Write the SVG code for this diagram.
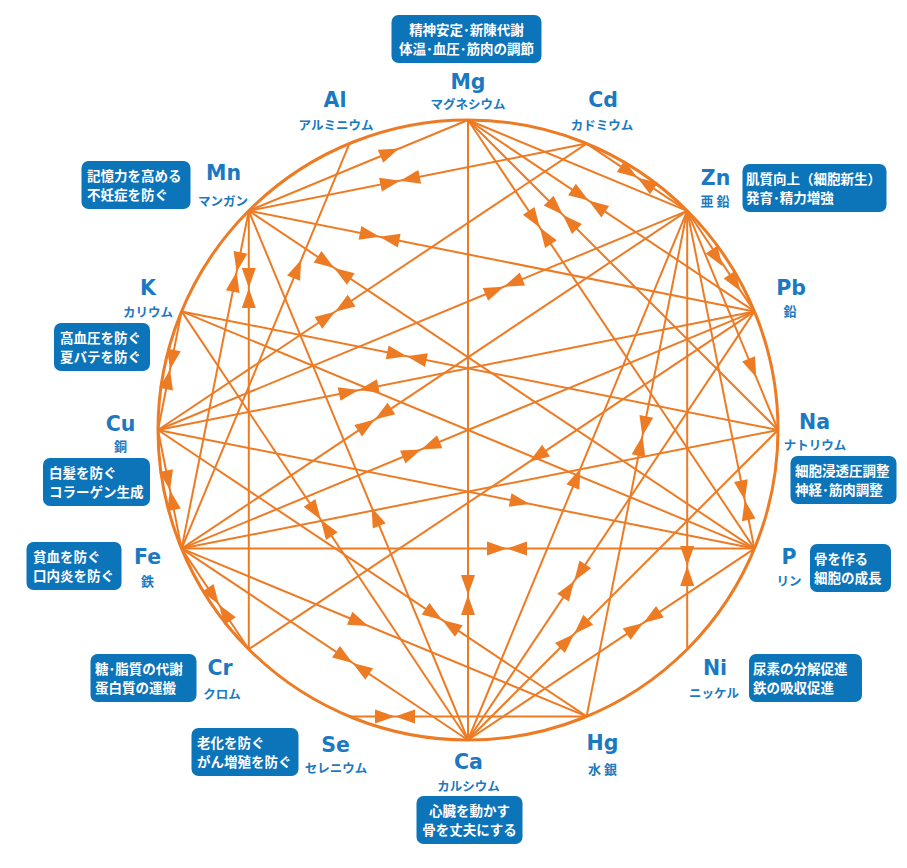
<svg xmlns="http://www.w3.org/2000/svg" xmlns:xlink="http://www.w3.org/1999/xlink" width="907" height="868" viewBox="0 0 907 868">
<style>
.c{fill:none;stroke:#ed7b24;stroke-width:3}
.l line{stroke:#ed7b24;stroke-width:2}
.a{fill:#ed7b24}
.sym{font-family:"DejaVu Sans",sans-serif;font-weight:bold;font-size:20.5px;fill:#1a79c1;text-anchor:middle}
.nm{font-family:"Noto Sans CJK JP",sans-serif;font-weight:bold;font-size:12.5px;fill:#1a79c1;text-anchor:middle}
.kj{font-size:13px}
.box{fill:#0c74b9}
.bt{font-family:"Noto Sans CJK JP",sans-serif;font-weight:bold;font-size:13.5px;fill:#fff}
.mid{text-anchor:middle}
</style>
<defs>
<path id="t" d="M0,0 L-20,-7 L-20,7 Z"/>
</defs>
<rect width="907" height="868" fill="#fff"/>
<circle class="c" cx="468" cy="430" r="310"/>
<g id="connectors" class="l">
<line x1="248.8" y1="210.8" x2="468" y2="120"/>
<line x1="248.8" y1="210.8" x2="586.6" y2="143.6"/>
<line x1="248.8" y1="210.8" x2="754.4" y2="311.4"/>
<line x1="248.8" y1="210.8" x2="754.4" y2="548.6"/>
<line x1="248.8" y1="210.8" x2="181.6" y2="548.6"/>
<line x1="248.8" y1="210.8" x2="248.8" y2="649.2"/>
<line x1="248.8" y1="210.8" x2="468" y2="740"/>
<line x1="349.4" y1="143.6" x2="181.6" y2="548.6"/>
<line x1="181.6" y1="311.4" x2="158" y2="430"/>
<line x1="181.6" y1="311.4" x2="778" y2="430"/>
<line x1="181.6" y1="311.4" x2="468" y2="740"/>
<line x1="181.6" y1="311.4" x2="754.4" y2="548.6"/>
<line x1="158" y1="430" x2="586.6" y2="143.6"/>
<line x1="158" y1="430" x2="754.4" y2="311.4"/>
<line x1="158" y1="430" x2="687.2" y2="210.8"/>
<line x1="158" y1="430" x2="754.4" y2="548.6"/>
<line x1="158" y1="430" x2="586.6" y2="716.4"/>
<line x1="158" y1="430" x2="181.6" y2="548.6"/>
<line x1="181.6" y1="548.6" x2="687.2" y2="210.8"/>
<line x1="181.6" y1="548.6" x2="754.4" y2="311.4"/>
<line x1="181.6" y1="548.6" x2="754.4" y2="548.6"/>
<line x1="181.6" y1="548.6" x2="778" y2="430"/>
<line x1="181.6" y1="548.6" x2="248.8" y2="649.2"/>
<line x1="181.6" y1="548.6" x2="586.6" y2="716.4"/>
<line x1="181.6" y1="548.6" x2="468" y2="740"/>
<line x1="468" y1="120" x2="687.2" y2="210.8"/>
<line x1="468" y1="120" x2="754.4" y2="311.4"/>
<line x1="468" y1="120" x2="778" y2="430"/>
<line x1="468" y1="120" x2="754.4" y2="548.6"/>
<line x1="468" y1="120" x2="468" y2="740"/>
<line x1="586.6" y1="143.6" x2="687.2" y2="210.8"/>
<line x1="687.2" y1="210.8" x2="754.4" y2="311.4"/>
<line x1="687.2" y1="210.8" x2="778" y2="430"/>
<line x1="687.2" y1="210.8" x2="586.6" y2="716.4"/>
<line x1="687.2" y1="210.8" x2="687.2" y2="649.2"/>
<line x1="687.2" y1="210.8" x2="754.4" y2="548.6"/>
<line x1="687.2" y1="210.8" x2="468" y2="740"/>
<line x1="754.4" y1="311.4" x2="248.8" y2="649.2"/>
<line x1="754.4" y1="311.4" x2="468" y2="740"/>
<line x1="778" y1="430" x2="468" y2="740"/>
<line x1="754.4" y1="548.6" x2="468" y2="740"/>
<line x1="349.4" y1="716.4" x2="586.6" y2="716.4"/>
</g>
<g id="arrows" class="a">
<use xlink:href="#t" transform="translate(399,148.6) rotate(-22.5)"/>
<use xlink:href="#t" transform="translate(371.6,507.4) rotate(-112.5)"/>
<use xlink:href="#t" transform="translate(301.2,259.7) rotate(-67.5)"/>
<use xlink:href="#t" transform="translate(756.2,377.3) rotate(67.5)"/>
<use xlink:href="#t" transform="translate(529.4,461.7) rotate(146.25)"/>
<use xlink:href="#t" transform="translate(529.7,503.9) rotate(11.25)"/>
<use xlink:href="#t" transform="translate(580.5,468.5) rotate(-67.5)"/>
<use xlink:href="#t" transform="translate(368.2,625.9) rotate(22.5)"/>
<use xlink:href="#t" transform="translate(722.6,266.3) rotate(56.25)"/>
<use xlink:href="#t" transform="translate(740.6,291.3) rotate(56.25)"/>
<use xlink:href="#t" transform="translate(400.1,180.7) rotate(-11.25)"/><use xlink:href="#t" transform="translate(400.1,180.7) rotate(168.75)"/>
<use xlink:href="#t" transform="translate(379.6,236.8) rotate(11.25)"/><use xlink:href="#t" transform="translate(379.6,236.8) rotate(191.25)"/>
<use xlink:href="#t" transform="translate(334.2,267.9) rotate(33.75)"/><use xlink:href="#t" transform="translate(334.2,267.9) rotate(213.75)"/>
<use xlink:href="#t" transform="translate(236.6,272) rotate(101.25)"/><use xlink:href="#t" transform="translate(236.6,272) rotate(281.25)"/>
<use xlink:href="#t" transform="translate(248.8,288) rotate(90)"/><use xlink:href="#t" transform="translate(248.8,288) rotate(270)"/>
<use xlink:href="#t" transform="translate(170,369.6) rotate(101.25)"/><use xlink:href="#t" transform="translate(170,369.6) rotate(281.25)"/>
<use xlink:href="#t" transform="translate(406.8,356.2) rotate(11.25)"/><use xlink:href="#t" transform="translate(406.8,356.2) rotate(191.25)"/>
<use xlink:href="#t" transform="translate(320.7,519.6) rotate(56.25)"/><use xlink:href="#t" transform="translate(320.7,519.6) rotate(236.25)"/>
<use xlink:href="#t" transform="translate(335,311.7) rotate(-33.75)"/><use xlink:href="#t" transform="translate(335,311.7) rotate(146.25)"/>
<use xlink:href="#t" transform="translate(358.7,390.1) rotate(-11.25)"/><use xlink:href="#t" transform="translate(358.7,390.1) rotate(168.75)"/>
<use xlink:href="#t" transform="translate(503.9,286.7) rotate(-22.5)"/><use xlink:href="#t" transform="translate(503.9,286.7) rotate(157.5)"/>
<use xlink:href="#t" transform="translate(374.8,419.6) rotate(-33.75)"/><use xlink:href="#t" transform="translate(374.8,419.6) rotate(146.25)"/>
<use xlink:href="#t" transform="translate(588.6,200.6) rotate(33.75)"/><use xlink:href="#t" transform="translate(588.6,200.6) rotate(213.75)"/>
<use xlink:href="#t" transform="translate(562.8,214.8) rotate(45)"/><use xlink:href="#t" transform="translate(562.8,214.8) rotate(225)"/>
<use xlink:href="#t" transform="translate(539.8,227.5) rotate(56.25)"/><use xlink:href="#t" transform="translate(539.8,227.5) rotate(236.25)"/>
<use xlink:href="#t" transform="translate(468,595) rotate(90)"/><use xlink:href="#t" transform="translate(468,595) rotate(270)"/>
<use xlink:href="#t" transform="translate(637.3,177.4) rotate(33.75)"/><use xlink:href="#t" transform="translate(637.3,177.4) rotate(213.75)"/>
<use xlink:href="#t" transform="translate(642.4,436.1) rotate(101.25)"/><use xlink:href="#t" transform="translate(642.4,436.1) rotate(281.25)"/>
<use xlink:href="#t" transform="translate(507,548.6) rotate(0)"/><use xlink:href="#t" transform="translate(507,548.6) rotate(180)"/>
<use xlink:href="#t" transform="translate(687.2,566) rotate(90)"/><use xlink:href="#t" transform="translate(687.2,566) rotate(270)"/>
<use xlink:href="#t" transform="translate(574.2,581.1) rotate(-56.25)"/><use xlink:href="#t" transform="translate(574.2,581.1) rotate(123.75)"/>
<use xlink:href="#t" transform="translate(574.1,633.9) rotate(-45)"/><use xlink:href="#t" transform="translate(574.1,633.9) rotate(135)"/>
<use xlink:href="#t" transform="translate(643.3,622.9) rotate(-33.75)"/><use xlink:href="#t" transform="translate(643.3,622.9) rotate(146.25)"/>
<use xlink:href="#t" transform="translate(744.8,500.2) rotate(78.75)"/><use xlink:href="#t" transform="translate(744.8,500.2) rotate(258.75)"/>
<use xlink:href="#t" transform="translate(421.2,449.4) rotate(-22.5)"/><use xlink:href="#t" transform="translate(421.2,449.4) rotate(157.5)"/>
<use xlink:href="#t" transform="translate(170,490.3) rotate(78.75)"/><use xlink:href="#t" transform="translate(170,490.3) rotate(258.75)"/>
<use xlink:href="#t" transform="translate(218.9,604.5) rotate(56.25)"/><use xlink:href="#t" transform="translate(218.9,604.5) rotate(236.25)"/>
<use xlink:href="#t" transform="translate(442.2,619.9) rotate(33.75)"/><use xlink:href="#t" transform="translate(442.2,619.9) rotate(213.75)"/>
<use xlink:href="#t" transform="translate(352.6,662.9) rotate(33.75)"/><use xlink:href="#t" transform="translate(352.6,662.9) rotate(213.75)"/>
<use xlink:href="#t" transform="translate(395,716.4) rotate(0)"/><use xlink:href="#t" transform="translate(395,716.4) rotate(180)"/>
</g>
<g id="node-Mg">
<rect class="box" x="391.5" y="15" width="150" height="48" rx="7"/>
<text class="bt mid"><tspan x="466.5" y="34.5">精神安定･新陳代謝</tspan><tspan x="466.5" y="54.2">体温･血圧･筋肉の調節</tspan></text>
<text class="sym" x="468" y="88.5">Mg</text>
<text class="nm" x="468" y="108.5">マグネシウム</text>
</g>
<g id="node-Al">
<text class="sym" x="335" y="106.5">Al</text>
<text class="nm" x="336" y="130">アルミニウム</text>
</g>
<g id="node-Cd">
<text class="sym" x="603" y="106.5">Cd</text>
<text class="nm" x="602" y="130">カドミウム</text>
</g>
<g id="node-Mn">
<rect class="box" x="81.5" y="161" width="109" height="48" rx="7"/>
<text class="bt"><tspan x="87" y="180.5">記憶力を高める</tspan><tspan x="87" y="200.2">不妊症を防ぐ</tspan></text>
<text class="sym" x="223.5" y="180">Mn</text>
<text class="nm" x="223" y="205.5">マンガン</text>
</g>
<g id="node-Zn">
<rect class="box" x="742.5" y="164" width="144" height="48" rx="7"/>
<text class="bt"><tspan x="746" y="183.5">肌質向上（細胞新生）</tspan><tspan x="746" y="203.2">発育･精力増強</tspan></text>
<text class="sym" x="715.5" y="184.5">Zn</text>
<text class="nm kj" x="715" y="206">亜 鉛</text>
</g>
<g id="node-K">
<rect class="box" x="54" y="323" width="96" height="48" rx="7"/>
<text class="bt"><tspan x="60" y="342.5">高血圧を防ぐ</tspan><tspan x="60" y="362.2">夏バテを防ぐ</tspan></text>
<text class="sym" x="148" y="295">K</text>
<text class="nm" x="148" y="317">カリウム</text>
</g>
<g id="node-Pb">
<text class="sym" x="791" y="294.5">Pb</text>
<text class="nm kj" x="790" y="316">鉛</text>
</g>
<g id="node-Cu">
<rect class="box" x="43" y="458" width="107" height="48" rx="7"/>
<text class="bt"><tspan x="49" y="477.5">白髪を防ぐ</tspan><tspan x="49" y="497.2">コラーゲン生成</tspan></text>
<text class="sym" x="120.5" y="431">Cu</text>
<text class="nm kj" x="120.5" y="451">銅</text>
</g>
<g id="node-Na">
<rect class="box" x="790.5" y="456" width="106" height="48" rx="7"/>
<text class="bt"><tspan x="795" y="475.5">細胞浸透圧調整</tspan><tspan x="795" y="495.2">神経･筋肉調整</tspan></text>
<text class="sym" x="814.5" y="428.5">Na</text>
<text class="nm" x="815" y="450">ナトリウム</text>
</g>
<g id="node-Fe">
<rect class="box" x="26.5" y="542" width="95" height="48" rx="7"/>
<text class="bt"><tspan x="33" y="561.5">貧血を防ぐ</tspan><tspan x="33" y="581.2">口内炎を防ぐ</tspan></text>
<text class="sym" x="147.5" y="563.5">Fe</text>
<text class="nm kj" x="147.5" y="585.5">鉄</text>
</g>
<g id="node-P">
<rect class="box" x="810" y="544" width="81" height="48" rx="7"/>
<text class="bt"><tspan x="814" y="563.5">骨を作る</tspan><tspan x="814" y="583.2">細胞の成長</tspan></text>
<text class="sym" x="789" y="563.5">P</text>
<text class="nm" x="789" y="585.5">リン</text>
</g>
<g id="node-Cr">
<rect class="box" x="90.5" y="654" width="106" height="48" rx="7"/>
<text class="bt"><tspan x="95" y="673.5">糖･脂質の代謝</tspan><tspan x="95" y="693.2">蛋白質の運搬</tspan></text>
<text class="sym" x="220" y="675">Cr</text>
<text class="nm" x="222" y="698.5">クロム</text>
</g>
<g id="node-Ni">
<rect class="box" x="749" y="654" width="113" height="48" rx="7"/>
<text class="bt"><tspan x="753" y="673.5">尿素の分解促進</tspan><tspan x="753" y="693.2">鉄の吸収促進</tspan></text>
<text class="sym" x="715" y="675">Ni</text>
<text class="nm" x="714" y="697.5">ニッケル</text>
</g>
<g id="node-Se">
<rect class="box" x="191.5" y="728" width="107" height="48" rx="7"/>
<text class="bt"><tspan x="197" y="747.5">老化を防ぐ</tspan><tspan x="197" y="767.2">がん増殖を防ぐ</tspan></text>
<text class="sym" x="335.5" y="751.5">Se</text>
<text class="nm" x="336" y="772.5">セレニウム</text>
</g>
<g id="node-Hg">
<text class="sym" x="602.5" y="749.5">Hg</text>
<text class="nm kj" x="602.5" y="773.5">水 銀</text>
</g>
<g id="node-Ca">
<rect class="box" x="416.5" y="796" width="106" height="48" rx="7"/>
<text class="bt mid"><tspan x="469.5" y="815.5">心臓を動かす</tspan><tspan x="469.5" y="835.2">骨を丈夫にする</tspan></text>
<text class="sym" x="468.5" y="768.5">Ca</text>
<text class="nm" x="468.5" y="790.5">カルシウム</text>
</g>
</svg>
